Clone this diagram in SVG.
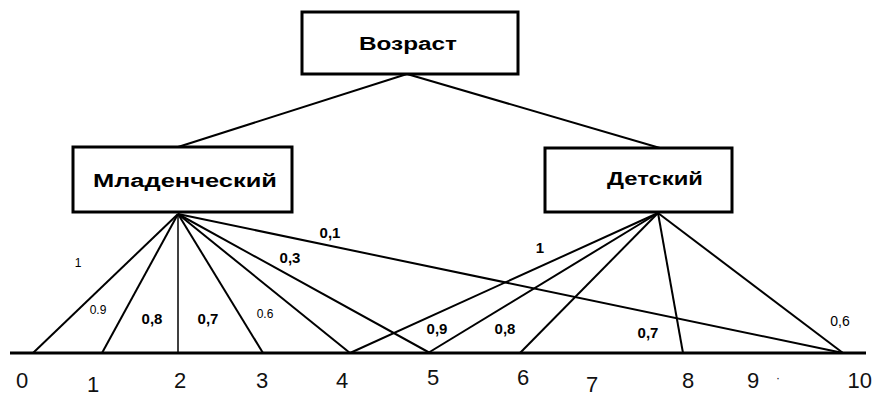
<svg xmlns="http://www.w3.org/2000/svg" width="875" height="396" viewBox="0 0 875 396">
<style>
.box{fill:#fff;stroke:#000;stroke-width:3}
.ln{stroke:#000;stroke-width:2;fill:none}
.thin{stroke:#000;stroke-width:1.5;fill:none}
.nt{font-family:"Liberation Sans",Arial,sans-serif;font-weight:bold;font-size:18px;text-anchor:middle;fill:#000}
.lb{font-family:"Liberation Sans",Arial,sans-serif;font-weight:bold;font-size:15px;text-anchor:middle;fill:#000}
.ls{font-family:"Liberation Sans",Arial,sans-serif;font-size:12px;text-anchor:middle;fill:#000}
.ax{font-family:"Liberation Sans",Arial,sans-serif;font-size:22px;text-anchor:middle;fill:#111}
</style>
<rect width="875" height="396" fill="#fff"/>
<g id="connectors">
<line class="ln" x1="407" y1="74" x2="178" y2="147"/>
<line class="ln" x1="407" y1="74" x2="660" y2="148"/>
<line class="ln" x1="178" y1="214" x2="33" y2="353"/>
<line class="ln" x1="178" y1="214" x2="102" y2="353"/>
<line class="thin" x1="178" y1="214" x2="178" y2="353"/>
<line class="ln" x1="178" y1="214" x2="263" y2="353"/>
<line class="ln" x1="178" y1="214" x2="350" y2="353"/>
<line class="ln" x1="178" y1="214" x2="430" y2="353"/>
<line class="ln" x1="178" y1="214" x2="843" y2="353"/>
<line class="ln" x1="658" y1="213" x2="350" y2="353"/>
<line class="ln" x1="658" y1="213" x2="428" y2="353"/>
<line class="ln" x1="658" y1="213" x2="520" y2="353"/>
<line class="ln" x1="658" y1="213" x2="683" y2="353"/>
<line class="ln" x1="658" y1="213" x2="843" y2="353"/>
<line x1="10" y1="353" x2="866" y2="353" stroke="#000" stroke-width="3"/>
</g>
<g id="node-vozrast">
<rect class="box" x="302" y="12" width="216" height="62"/>
<text class="nt" x="408" y="50" textLength="98" lengthAdjust="spacingAndGlyphs">Возраст</text>
</g>
<g id="node-mladencheskiy">
<rect class="box" x="73" y="147" width="219" height="65"/>
<text class="nt" x="185" y="187" textLength="184" lengthAdjust="spacingAndGlyphs">Младенческий</text>
</g>
<g id="node-detskiy">
<rect class="box" x="545" y="148" width="187" height="64"/>
<text class="nt" x="655" y="185" textLength="96" lengthAdjust="spacingAndGlyphs">Детский</text>
</g>
<g id="labels">
<text class="ls" x="78" y="267">1</text>
<text class="ls" x="98" y="314">0.9</text>
<text class="lb" x="152" y="324">0,8</text>
<text class="lb" x="208" y="324">0,7</text>
<text class="ls" x="265" y="318">0.6</text>
<text class="lb" x="290" y="263">0,3</text>
<text class="lb" x="330" y="238">0,1</text>
<text class="lb" x="540" y="253">1</text>
<text class="lb" x="437" y="334">0,9</text>
<text class="lb" x="505" y="334">0,8</text>
<text class="lb" x="648" y="338">0,7</text>
<text class="ls" x="840" y="326" style="font-size:14px">0,6</text>
</g>
<g id="axis">
<text class="ax" x="22" y="388">0</text>
<text class="ax" x="93" y="392">1</text>
<text class="ax" x="180" y="388">2</text>
<text class="ax" x="262" y="388">3</text>
<text class="ax" x="342" y="388">4</text>
<text class="ax" x="433" y="385">5</text>
<text class="ax" x="523" y="385">6</text>
<text class="ax" x="592" y="392">7</text>
<text class="ax" x="688" y="388">8</text>
<text class="ax" x="753" y="388">9</text>
<text class="ax" x="778" y="382" style="font-size:12px">·</text>
<text class="ax" x="872" y="388" style="text-anchor:end">10</text>
</g>
</svg>
